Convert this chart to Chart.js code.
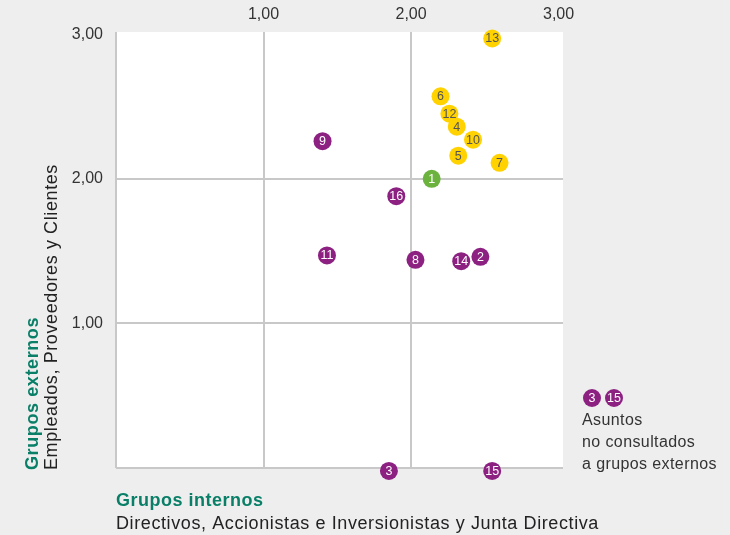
<!DOCTYPE html>
<html>
<head>
<meta charset="utf-8">
<script src="https://cdn.jsdelivr.net/npm/chart.js@4.4.0/dist/chart.umd.min.js"></script>
<style>
  html, body { margin: 0; padding: 0; background: #eeeeee; }
  #wrap { width: 730px; height: 535px; position: relative; }
</style>
</head>
<body>
<div id="wrap"><canvas id="chart" width="730" height="535"></canvas></div>
<script>
// === Data ===
const greenIds = ['1'];
const greenX = [2.14];
const greenY = [2.00];

const yellowIds = ['13', '6', '12', '4', '10', '5', '7'];
const yellowX = [2.55, 2.20, 2.26, 2.31, 2.42, 2.32, 2.60];
const yellowY = [2.97, 2.57, 2.45, 2.36, 2.27, 2.16, 2.11];

const purpleIds = ['9', '16', '11', '8', '14', '2', '3', '15'];
const purpleX = [1.40, 1.90, 1.43, 2.03, 2.34, 2.47, 1.85, 2.55];
const purpleY = [2.26, 1.88, 1.47, 1.44, 1.43, 1.46, -0.02, -0.02];

const tickValues = [0, 1, 2, 3];
const legendIds = ['3', '15'];
const legendLines = ['Asuntos', 'no consultados', 'a grupos externos'];

const PURPLE = '#8c2182';
const YELLOW = '#ffd200';
const GREEN = '#6bb23e';
const TEAL = '#0a7f68';
const GRID = '#c8c8c8';
const FONT = '"Liberation Sans", Arial, Helvetica, sans-serif';

function toPoints(xs, ys) {
    return xs.map((x, i) => ({ x: x, y: ys[i] }));
}

function fmt(v) {
    return v.toFixed(2).replace('.', ',');
}

// background: grey page, white plot area
const bgPlugin = {
    id: 'bg',
    beforeDraw(chart) {
        const { ctx, chartArea: a } = chart;
        ctx.save();
        ctx.fillStyle = '#eeeeee';
        ctx.fillRect(0, 0, chart.width, chart.height);
        ctx.fillStyle = '#ffffff';
        ctx.fillRect(a.left, a.top, a.right - a.left, a.bottom - a.top);
        ctx.restore();
    }
};

function drawBubble(ctx, x, y, text, fill, textColor) {
    ctx.beginPath();
    ctx.arc(x, y, 9, 0, Math.PI * 2);
    ctx.fillStyle = fill;
    ctx.fill();
    ctx.fillStyle = textColor;
    ctx.font = '12.5px ' + FONT;
    ctx.textAlign = 'center';
    ctx.textBaseline = 'middle';
    ctx.fillText(text, x, y + 0.5);
}

// numbers inside the points
const labelPlugin = {
    id: 'pointLabels',
    afterDatasetsDraw(chart) {
        const ctx = chart.ctx;
        ctx.save();
        chart.data.datasets.forEach((ds, di) => {
            const meta = chart.getDatasetMeta(di);
            meta.data.forEach((pt, i) => {
                ctx.fillStyle = ds.textColor;
                ctx.font = '12.5px ' + FONT;
                ctx.textAlign = 'center';
                ctx.textBaseline = 'middle';
                ctx.fillText(ds.ids[i], pt.x, pt.y + 0.5);
            });
        });
        ctx.restore();
    }
};

// axis titles and side note
const textPlugin = {
    id: 'titles',
    afterDraw(chart) {
        const ctx = chart.ctx;
        const a = chart.chartArea;
        ctx.save();
        ctx.textAlign = 'left';
        ctx.textBaseline = 'middle';

        ctx.fillStyle = TEAL;
        ctx.font = 'bold 18px ' + FONT;
        ctx.letterSpacing = '0.5px';
        ctx.fillText('Grupos internos', a.left, 501);
        ctx.fillStyle = '#222222';
        ctx.font = '18px ' + FONT;
        ctx.letterSpacing = '0.6px';
        ctx.fillText('Directivos, Accionistas e Inversionistas y Junta Directiva', a.left, 524);

        ctx.save();
        ctx.translate(33, a.bottom + 2);
        ctx.rotate(-Math.PI / 2);
        ctx.fillStyle = TEAL;
        ctx.font = 'bold 18px ' + FONT;
        ctx.letterSpacing = '0.6px';
        ctx.fillText('Grupos externos', 0, 0);
        ctx.restore();

        ctx.save();
        ctx.translate(52, a.bottom + 2);
        ctx.rotate(-Math.PI / 2);
        ctx.fillStyle = '#222222';
        ctx.font = '18px ' + FONT;
        ctx.letterSpacing = '0.6px';
        ctx.fillText('Empleados, Proveedores y Clientes', 0, 0);
        ctx.restore();

        // note for issues not consulted
        ctx.letterSpacing = '0px';
        legendIds.forEach((id, i) => drawBubble(ctx, 592 + i * 22, 398, id, PURPLE, '#ffffff'));
        ctx.fillStyle = '#333333';
        ctx.font = '16px ' + FONT;
        ctx.letterSpacing = '0.4px';
        ctx.textAlign = 'left';
        ctx.textBaseline = 'middle';
        legendLines.forEach((line, i) => ctx.fillText(line, 582, 421 + i * 22));
        ctx.restore();
    }
};

const gridColor = (c) => (c.tick && c.tick.value === 3 ? 'rgba(0,0,0,0)' : GRID);

const chart = new Chart(document.getElementById('chart'), {
    type: 'scatter',
    data: {
        datasets: [
            { ids: purpleIds, textColor: '#ffffff', data: toPoints(purpleX, purpleY),
              backgroundColor: PURPLE, borderWidth: 0, pointRadius: 9, pointHoverRadius: 9, clip: false },
            { ids: yellowIds, textColor: '#555555', data: toPoints(yellowX, yellowY),
              backgroundColor: YELLOW, borderWidth: 0, pointRadius: 9, pointHoverRadius: 9, clip: false },
            { ids: greenIds, textColor: '#ffffff', data: toPoints(greenX, greenY),
              backgroundColor: GREEN, borderWidth: 0, pointRadius: 9, pointHoverRadius: 9, clip: false }
        ]
    },
    options: {
        responsive: false,
        animation: false,
        events: [],
        layout: { padding: { left: 0, top: 0, right: 167, bottom: 67 } },
        plugins: { legend: { display: false }, tooltip: { enabled: false } },
        scales: {
            x: {
                type: 'linear',
                position: 'top',
                min: 0,
                max: 3.03,
                afterBuildTicks: (s) => { s.ticks = tickValues.map(v => ({ value: v })); },
                afterFit: (s) => { s.height = 32; },
                border: { display: false },
                grid: { color: gridColor, lineWidth: 2, drawTicks: false },
                ticks: {
                    padding: 8,
                    color: '#333333',
                    font: { family: FONT, size: 16 },
                    maxRotation: 0,
                    callback: (v) => (v === 0 ? '' : fmt(v))
                }
            },
            y: {
                type: 'linear',
                min: 0,
                max: 3.015,
                afterBuildTicks: (s) => { s.ticks = tickValues.map(v => ({ value: v })); },
                afterFit: (s) => { s.width = 116; },
                border: { display: false },
                grid: { color: gridColor, lineWidth: 2, drawTicks: false },
                ticks: {
                    padding: 13,
                    color: '#333333',
                    font: { family: FONT, size: 16 },
                    callback: (v) => (v === 0 ? '' : fmt(v))
                }
            }
        }
    },
    plugins: [bgPlugin, labelPlugin, textPlugin]
});
</script>
</body>
</html>
